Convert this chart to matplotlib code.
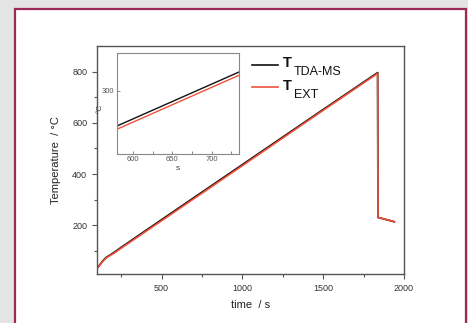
import matplotlib
matplotlib.use("Agg")
import matplotlib.pyplot as plt
from matplotlib.patches import Rectangle
from matplotlib.lines import Line2D
from matplotlib.ticker import MultipleLocator, FixedLocator

plt.rcParams['font.family'] = ['Liberation Sans', 'DejaVu Sans']

# temperature readings
time_tda = [100, 120, 140, 160, 181, 210, 243, 500, 1000, 1500, 1837, 1839, 1940]
temp_tda = [32, 48, 64, 76, 84, 96, 111, 222, 437, 652, 796, 231, 214]
time_ext = [100, 120, 140, 160, 181, 210, 243, 500, 1000, 1500, 1837, 1839, 1940]
temp_ext = [32, 47, 62, 74, 82, 93, 108, 218, 433, 649, 793, 231, 214]

x_ticks = [500, 1000, 1500, 2000]
y_ticks = [200, 400, 600, 800]
inset_x_ticks = [600, 650, 700]
inset_y_ticks = [300]

black = '#111111'
red = '#f0503a'
spine = '#555555'

fig = plt.figure(figsize=(4.68, 3.23), dpi=100)
fig.patch.set_facecolor('#e4e4e4')

# white panel with maroon frame
panel = Rectangle((15 / 468, -0.05), (466 - 15) / 468, 1 - 9 / 323 + 0.05,
                  transform=fig.transFigure, facecolor='white',
                  edgecolor='#9a2a55', linewidth=1.6, zorder=-10)
fig.patches.append(panel)

ax = fig.add_axes([97 / 468, 1 - 274 / 323, 307 / 468, 228 / 323])
ax.set_facecolor('none')
ax.plot(time_tda, temp_tda, color=black, lw=1.3)
ax.plot(time_ext, temp_ext, color=red, lw=1.2)
ax.set_xlim(100, 2000)
ax.set_ylim(10, 900)
ax.set_xticks(x_ticks)
ax.set_yticks(y_ticks)
ax.xaxis.set_minor_locator(MultipleLocator(250))
ax.yaxis.set_minor_locator(FixedLocator([100, 300, 500, 700]))
ax.tick_params(which='both', direction='out', color=spine, labelsize=6.5,
               labelcolor='#333333', width=0.8)
ax.tick_params(which='major', length=3.5)
ax.tick_params(which='minor', length=2.5)
for s in ax.spines.values():
    s.set_color(spine)
    s.set_linewidth(1.0)
ax.set_xlabel('time  / s', fontsize=8, color='#222222', labelpad=5)
ax.set_ylabel('Temperature  / °C', fontsize=8, color='#222222', labelpad=8)

# legend
ax.add_line(Line2D([0.505, 0.590], [0.917, 0.917], transform=ax.transAxes,
                   color=black, lw=1.2, clip_on=False))
ax.add_line(Line2D([0.505, 0.590], [0.819, 0.819], transform=ax.transAxes,
                   color=red, lw=1.2, clip_on=False))
ax.text(0.604, 0.924, 'T', transform=ax.transAxes, fontsize=10.5,
        fontweight='bold', color='#111111', va='center', ha='left')
ax.text(0.641, 0.886, 'TDA-MS', transform=ax.transAxes, fontsize=9,
        color='#111111', va='center', ha='left')
ax.text(0.604, 0.824, 'T', transform=ax.transAxes, fontsize=10.5,
        fontweight='bold', color='#111111', va='center', ha='left')
ax.text(0.641, 0.785, 'EXT', transform=ax.transAxes, fontsize=9,
        color='#111111', va='center', ha='left')

# inset zoom
ins = fig.add_axes([117.3 / 468, 1 - 153.7 / 323, 122 / 468, 100.4 / 323])
ins.plot(time_tda, temp_tda, color=black, lw=1.0)
ins.plot(time_ext, temp_ext, color=red, lw=1.0)
ins.set_xlim(580, 735)
ins.set_ylim(222, 346)
ins.set_xticks(inset_x_ticks)
ins.set_yticks(inset_y_ticks)
ins.xaxis.set_minor_locator(FixedLocator([625, 675, 725]))
ins.tick_params(which='both', direction='in', color='#777777', labelsize=5.5,
                labelcolor='#555555', width=0.6, length=2, pad=2)
for s in ins.spines.values():
    s.set_color('#888888')
    s.set_linewidth(0.8)
ins.set_xlabel('s', fontsize=6, color='#444444', labelpad=1)
ins.set_ylabel('°C', fontsize=6, color='#444444')
ins.yaxis.set_label_coords(-0.11, 0.45)

fig.savefig('out.png', dpi=100, facecolor=fig.get_facecolor())
